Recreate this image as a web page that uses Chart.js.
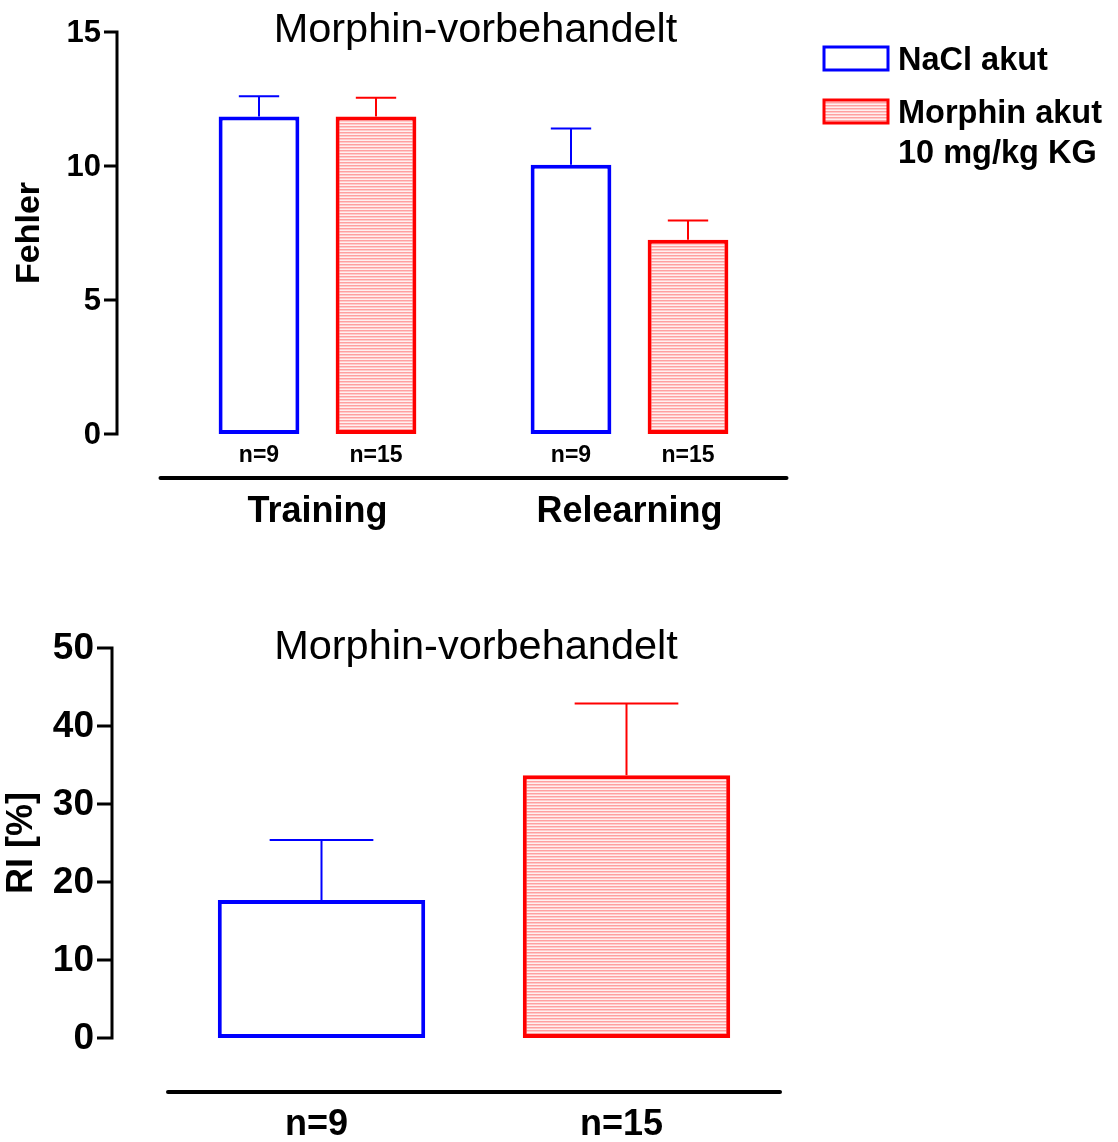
<!DOCTYPE html>
<html>
<head>
<meta charset="utf-8">
<script src="https://cdn.jsdelivr.net/npm/chart.js@4.4.1/dist/chart.umd.min.js"></script>
<style>
  body { margin: 0; background: #fff; }
  canvas { position: absolute; left: 0; }
  #fehler { top: 0; }
  #ri { top: 580px; }
</style>
</head>
<body>
<canvas id="fehler" width="1118" height="560"></canvas>
<canvas id="ri" width="1118" height="562"></canvas>
<script>
// Fehler (errors) per phase
const groups = ["Training", "Relearning"]
const naclFehler = [11.85, 10.05]
const naclFehlerSem = [0.75, 1.35]
const naclN = [9, 9]
const morphinFehler = [11.85, 7.25]
const morphinFehlerSem = [0.7, 0.72]
const morphinN = [15, 15]
const fehlerTicks = [0, 5, 10, 15]

// RI in percent
const riN = [9, 15]
const riValues = [17.7, 33.7]
const riSem = [7.7, 9.2]
const riTicks = [0, 10, 20, 30, 40, 50]

const seriesNames = ["NaCl akut", "Morphin akut"]
const morphinDose = "10 mg/kg KG"
const plotTitle = "Morphin-vorbehandelt"

const FONT = '"Liberation Sans", Arial, sans-serif'
const BLUE = "#0000ff"
const RED = "#ff0000"

// light red horizontal hatching
const stripes = (() => {
  const c = document.createElement("canvas")
  c.width = 4
  c.height = 3
  const ctx = c.getContext("2d")
  ctx.fillStyle = "#fff0f0"
  ctx.fillRect(0, 0, 4, 3)
  ctx.fillStyle = "#ffa0a0"
  ctx.fillRect(0, 0, 4, 1)
  ctx.fillStyle = "#ffcaca"
  ctx.fillRect(0, 1, 4, 1)
  return ctx.createPattern(c, "repeat")
})()

const text = (ctx, str, x, y, font, align = "center", rotate = 0) => {
  ctx.save()
  ctx.font = font
  ctx.fillStyle = "#000"
  ctx.textAlign = align
  ctx.textBaseline = "middle"
  ctx.translate(x, y)
  ctx.rotate(rotate)
  ctx.fillText(str, 0, 0)
  ctx.restore()
}

// Prism-style frame: detached y axis, title, baseline and labels under the bars
const prismFrame = {
  id: "prismFrame",
  afterDatasetsDraw(chart, args, opts) {
    const { ctx, chartArea } = chart
    const y = chart.scales.y
    const x = chart.scales.x

    // error bars (mean + SEM)
    chart.data.datasets.forEach((ds, di) => {
      const meta = chart.getDatasetMeta(di)
      meta.data.forEach((bar, i) => {
        const { x: bx, width } = bar.getProps(["x", "width"], true)
        const top = y.getPixelForValue(ds.data[i])
        const end = y.getPixelForValue(ds.data[i] + ds.sem[i])
        const color = Array.isArray(ds.borderColor) ? ds.borderColor[i] : ds.borderColor
        ctx.save()
        ctx.strokeStyle = color
        ctx.lineWidth = 2
        ctx.beginPath()
        ctx.moveTo(bx, top)
        ctx.lineTo(bx, end)
        ctx.moveTo(bx - width / 4, end)
        ctx.lineTo(bx + width / 4, end)
        ctx.stroke()
        ctx.restore()
        if (ds.n) text(ctx, "n=" + ds.n[i], bx, chartArea.bottom + opts.nOffset, opts.nFont)
      })
    })

    // y axis
    const ticks = opts.ticks
    ctx.save()
    ctx.strokeStyle = "#000"
    ctx.lineWidth = 3
    ctx.beginPath()
    ctx.moveTo(opts.axisX, y.getPixelForValue(ticks[ticks.length - 1]) - 1.5)
    ctx.lineTo(opts.axisX, y.getPixelForValue(0) + 1.5)
    ticks.forEach((t) => {
      const py = y.getPixelForValue(t)
      ctx.moveTo(opts.axisX - opts.tickLen, py)
      ctx.lineTo(opts.axisX, py)
    })
    ctx.stroke()
    ctx.restore()
    ticks.forEach((t) => {
      text(ctx, String(t), opts.axisX - opts.tickLen - 3, y.getPixelForValue(t) + 1, opts.tickFont, "right")
    })
    text(ctx, opts.yTitle, opts.yTitleX, (y.top + y.bottom) / 2 + opts.yTitleShift, opts.yTitleFont, "center", -Math.PI / 2)

    // title
    text(ctx, plotTitle, (chartArea.left + chartArea.right) / 2 + 2, opts.titleY, opts.titleFont)

    // baseline under the groups
    ctx.save()
    ctx.strokeStyle = "#000"
    ctx.lineWidth = 4
    ctx.lineCap = "round"
    ctx.beginPath()
    ctx.moveTo(chartArea.left - 1, chartArea.bottom + opts.baseline)
    ctx.lineTo(chartArea.right + 1, chartArea.bottom + opts.baseline)
    ctx.stroke()
    ctx.restore()

    chart.data.labels.forEach((lab, i) => {
      text(ctx, lab, x.getPixelForTick(i) + opts.labelShift, chartArea.bottom + opts.labelOffset, opts.labelFont)
    })

    if (opts.legend) {
      const boxes = [
        { top: 47, fill: "#fff", stroke: BLUE, lines: [seriesNames[0]] },
        { top: 100, fill: stripes, stroke: RED, lines: [seriesNames[1], morphinDose] },
      ]
      boxes.forEach((b) => {
        ctx.save()
        ctx.fillStyle = b.fill
        ctx.fillRect(824, b.top, 64, 23)
        ctx.strokeStyle = b.stroke
        ctx.lineWidth = 3
        ctx.strokeRect(824, b.top, 64, 23)
        ctx.restore()
        b.lines.forEach((l, k) => text(ctx, l, 898, b.top + 14 + k * 40, "bold 32.5px " + FONT, "left"))
      })
    }
  },
}

const barStyle = {
  borderWidth: 4,
  borderSkipped: false,
}

new Chart(document.getElementById("fehler"), {
  type: "bar",
  data: {
    labels: groups,
    datasets: [
      {
        label: seriesNames[0],
        data: naclFehler,
        sem: naclFehlerSem,
        n: naclN,
        backgroundColor: "#fff",
        borderColor: BLUE,
        ...barStyle,
      },
      {
        label: seriesNames[1],
        data: morphinFehler,
        sem: morphinFehlerSem,
        n: morphinN,
        backgroundColor: stripes,
        borderColor: RED,
        ...barStyle,
      },
    ],
  },
  options: {
    responsive: false,
    animation: false,
    events: [],
    categoryPercentage: 0.75,
    barPercentage: 0.69,
    layout: { padding: { left: 161.5, right: 332.5, top: 32, bottom: 126 } },
    scales: {
      x: { display: false },
      y: { display: false, min: 0, max: 15 },
    },
    plugins: {
      legend: { display: false },
      tooltip: { enabled: false },
      prismFrame: {
        axisX: 117,
        tickLen: 13,
        ticks: fehlerTicks,
        tickFont: "bold 31px " + FONT,
        yTitle: "Fehler",
        yTitleX: 30,
        yTitleShift: 0,
        yTitleFont: "bold 34px " + FONT,
        titleY: 31,
        titleFont: "41.5px " + FONT,
        nOffset: 22,
        nFont: "bold 23px " + FONT,
        baseline: 44,
        labelOffset: 78,
        labelFont: "bold 36px " + FONT,
        labelShift: 0,
        legend: true,
      },
    },
  },
  plugins: [prismFrame],
})

new Chart(document.getElementById("ri"), {
  type: "bar",
  data: {
    labels: riN.map((n) => "n=" + n),
    datasets: [
      {
        label: "RI",
        data: riValues,
        sem: riSem,
        backgroundColor: ["#fff", stripes],
        borderColor: [BLUE, RED],
        ...barStyle,
      },
    ],
  },
  options: {
    responsive: false,
    animation: false,
    events: [],
    categoryPercentage: 1,
    barPercentage: 0.68,
    layout: { padding: { left: 169, right: 339, top: 68, bottom: 104 } },
    scales: {
      x: { display: false },
      y: { display: false, min: 0, max: 50 },
    },
    plugins: {
      legend: { display: false },
      tooltip: { enabled: false },
      prismFrame: {
        axisX: 112,
        tickLen: 15,
        ticks: riTicks,
        tickFont: "bold 37px " + FONT,
        yTitle: "RI [%]",
        yTitleX: 22,
        yTitleShift: 0,
        yTitleFont: "bold 36px " + FONT,
        titleY: 68,
        titleFont: "41.5px " + FONT,
        baseline: 54,
        labelOffset: 87,
        labelFont: "bold 36px " + FONT,
        labelShift: -5,
        legend: false,
      },
    },
  },
  plugins: [prismFrame],
})
</script>
</body>
</html>
